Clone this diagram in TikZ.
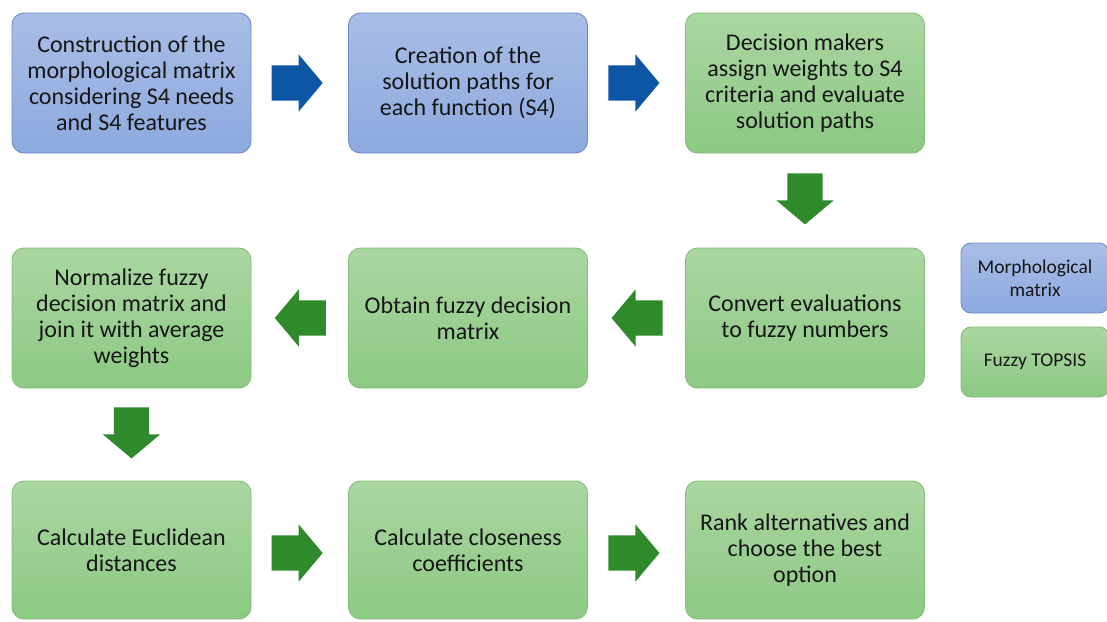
\documentclass[tikz,border=0pt]{standalone}
\usepackage{fontspec}
\setmainfont{Carlito}
\usetikzlibrary{shapes.arrows,calc}

\definecolor{bluetop}{HTML}{A9BEE6}
\definecolor{bluebot}{HTML}{8DA9DE}
\definecolor{blueedge}{HTML}{6C8DCA}
\definecolor{greentop}{HTML}{AAD6A2}
\definecolor{greenbot}{HTML}{8DC984}
\definecolor{greenedge}{HTML}{80BF76}
\definecolor{bluearrow}{HTML}{0D56A6}
\definecolor{greenarrow}{HTML}{2E8A2A}
\definecolor{ink}{HTML}{161616}

\tikzset{
  stepbox/.style={rounded corners=12pt, line width=0.9pt,
    minimum width=239pt, minimum height=140pt, inner sep=0pt,
    align=center, text=ink, font=\fontsize{24}{26}\selectfont},
  bluebox/.style={stepbox, draw=blueedge, top color=bluetop, bottom color=bluebot},
  greenbox/.style={stepbox, draw=greenedge, top color=greentop, bottom color=greenbot},
  legendbox/.style={rounded corners=10pt, line width=0.9pt,
    minimum width=148pt, minimum height=70pt, inner sep=0pt,
    align=center, text=ink, font=\fontsize{19.5}{23}\selectfont},
  blockarrow/.style={single arrow, draw=none,
    single arrow head extend=11pt, single arrow tip angle=100,
    minimum height=51pt},
  rightarrow/.style={blockarrow, inner xsep=0pt, inner ysep=17.5pt, shape border rotate=0},
  leftarrow/.style={blockarrow, inner xsep=0pt, inner ysep=17.5pt, shape border rotate=180},
  downarrow/.style={blockarrow, inner xsep=17.5pt, inner ysep=0pt, shape border rotate=270}
}

\begin{document}
\begin{tikzpicture}[x=1pt,y=-1pt]
  \useasboundingbox (0,0) rectangle (1107,621);

  % morphological matrix steps
  \node[bluebox]  (s1) at (131.5,83) {Construction of the\\morphological matrix\\considering S4 needs\\and S4 features};
  \node[bluebox]  (s2) at (468,83)   {Creation of the\\solution paths for\\each function (S4)};
  % fuzzy TOPSIS steps
  \node[greenbox] (s3) at (805,83)   {Decision makers\\assign weights to S4\\criteria and evaluate\\solution paths};
  \node[greenbox] (s4) at (805,318)  {Convert evaluations\\to fuzzy numbers};
  \node[greenbox] (s5) at (468,318)  {Obtain fuzzy decision\\matrix};
  \node[greenbox] (s6) at (131.5,318){Normalize fuzzy\\decision matrix and\\join it with average\\weights};
  \node[greenbox, minimum height=138pt] (s7) at (131.5,550) {Calculate Euclidean\\distances};
  \node[greenbox, minimum height=138pt] (s8) at (468,550)   {Calculate closeness\\coefficients};
  \node[greenbox, minimum height=138pt] (s9) at (805,550)   {Rank alternatives and\\choose the best\\option};

  % legend
  \node[legendbox, draw=blueedge, top color=bluetop, bottom color=bluebot] (lg1) at (1035,278) {Morphological\\matrix};
  \node[legendbox, draw=greenedge, top color=greentop, bottom color=greenbot] (lg2) at (1035,362) {Fuzzy TOPSIS};

  % flow arrows (the shape centre sits behind the tip, hence the offsets)
  \node[rightarrow, fill=bluearrow]  (a12) at ($(s1.east)!0.5!(s2.west)+(-10,0)$) {};
  \node[rightarrow, fill=bluearrow]  (a23) at ($(s2.east)!0.5!(s3.west)+(-10,0)$) {};
  \node[downarrow,  fill=greenarrow] (a34) at ($(s3.south)!0.5!(s4.north)+(0,-9)$) {};
  \node[leftarrow,  fill=greenarrow] (a45) at ($(s4.west)!0.5!(s5.east)+(8,0)$) {};
  \node[leftarrow,  fill=greenarrow] (a56) at ($(s5.west)!0.5!(s6.east)+(8,0)$) {};
  \node[downarrow,  fill=greenarrow] (a67) at ($(s6.south)!0.5!(s7.north)+(0,-9)$) {};
  \node[rightarrow, fill=greenarrow] (a78) at ($(s7.east)!0.5!(s8.west)+(-10,3)$) {};
  \node[rightarrow, fill=greenarrow] (a89) at ($(s8.east)!0.5!(s9.west)+(-10,3)$) {};
\end{tikzpicture}
\end{document}
